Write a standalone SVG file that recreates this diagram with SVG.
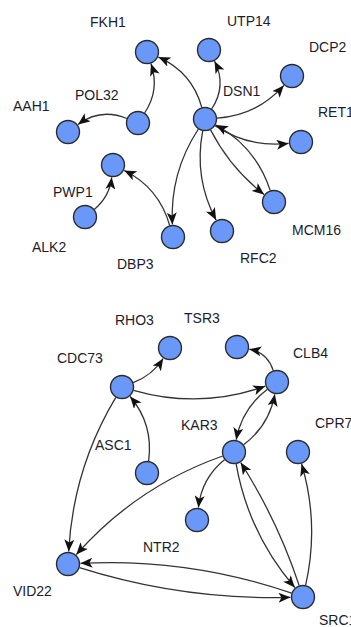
<svg xmlns="http://www.w3.org/2000/svg" width="351" height="627" viewBox="0 0 351 627">
<style>
.n{fill:#6a98f8;stroke:#2b2b2b;stroke-width:1.4}
.e{fill:none;stroke:#333;stroke-width:1.3}
.l{font-family:"Liberation Sans",Arial,sans-serif;font-size:14px;fill:#1c1c2c}
</style>
<defs>
<marker id="a" markerUnits="userSpaceOnUse" markerWidth="12" markerHeight="10" viewBox="0 0 12 10" refX="12" refY="5" orient="auto">
<path d="M0,0 L12,5 L0,10 L3,5 z" fill="#111"/>
</marker>
</defs>
<rect width="351" height="627" fill="#fff"/>
<g id="edges">
<path class="e" marker-end="url(#a)" d="M144.6,113 Q160,90 151,63.8"/>
<path class="e" marker-end="url(#a)" d="M126.9,118.5 Q100.5,107.7 78,124.5"/>
<path class="e" marker-end="url(#a)" d="M201.8,107.4 Q192,72 158.4,57.1"/>
<path class="e" marker-end="url(#a)" d="M211.6,109 Q227,85.7 214.6,61.2"/>
<path class="e" marker-end="url(#a)" d="M217,118.2 Q257.4,115.4 283.8,85.4"/>
<path class="e" marker-end="url(#a)" d="M215,125.6 Q248.8,148 288.6,143.4"/>
<path class="e" marker-end="url(#a)" d="M210.5,129.7 Q230.3,168.2 264.1,194.4"/>
<path class="e" marker-end="url(#a)" d="M270.3,190.6 Q256,146.8 216,125"/>
<path class="e" marker-end="url(#a)" d="M202.7,130.8 Q193.7,178 216.1,220"/>
<path class="e" marker-end="url(#a)" d="M198.4,129 Q169.7,172.8 172.4,224.5"/>
<path class="e" marker-end="url(#a)" d="M169.7,225.5 Q159,187.6 124.2,170.5"/>
<path class="e" marker-end="url(#a)" d="M94.3,209.4 Q109.6,196.7 111.7,177.4"/>
<path class="e" marker-end="url(#a)" d="M133.2,382.7 Q152.3,375.3 163.2,358.5"/>
<path class="e" marker-end="url(#a)" d="M133.5,390.3 Q200.3,409.5 265.2,386.2"/>
<path class="e" marker-end="url(#a)" d="M273.3,370.6 Q267.5,352.5 249.3,349.2"/>
<path class="e" marker-end="url(#a)" d="M148.6,461.1 Q153.7,424.4 130.1,396.5"/>
<path class="e" marker-end="url(#a)" d="M115.8,397.3 Q73,468.8 68.7,551.5"/>
<path class="e" marker-end="url(#a)" d="M243.6,444.8 Q269.1,425.4 274.8,394.3"/>
<path class="e" marker-end="url(#a)" d="M267.4,389.2 Q241.9,408.6 236.2,439.7"/>
<path class="e" marker-end="url(#a)" d="M224.7,459.6 Q201.5,478.4 198.4,507.6"/>
<path class="e" marker-end="url(#a)" d="M222.7,456 Q136.5,486.4 76.3,554.6"/>
<path class="e" marker-end="url(#a)" d="M291.6,593.1 Q188.7,557.7 80.5,563.3"/>
<path class="e" marker-end="url(#a)" d="M79.4,567.6 Q182.7,600.3 290.5,597.3"/>
<path class="e" marker-end="url(#a)" d="M236.1,463.8 Q248.6,534 294.8,587.5"/>
<path class="e" marker-end="url(#a)" d="M299.2,585.6 Q277.5,520.2 240.7,462.5"/>
<path class="e" marker-end="url(#a)" d="M305.6,585.3 Q319.5,523.9 301.6,464"/>
</g>
<g id="FKH1"><circle class="n" cx="147" cy="52" r="11.5"/><text class="l" x="90" y="27">FKH1</text></g>
<g id="UTP14"><circle class="n" cx="209" cy="50" r="11.5"/><text class="l" x="227" y="26">UTP14</text></g>
<g id="DCP2"><circle class="n" cx="292" cy="76" r="11.5"/><text class="l" x="309" y="52">DCP2</text></g>
<g id="POL32"><circle class="n" cx="138" cy="123" r="11.5"/><text class="l" x="75" y="100">POL32</text></g>
<g id="AAH1"><circle class="n" cx="68" cy="132" r="11.5"/><text class="l" x="13" y="111">AAH1</text></g>
<g id="DSN1"><circle class="n" cx="205" cy="119" r="11.5"/><text class="l" x="223" y="96">DSN1</text></g>
<g id="RET1"><circle class="n" cx="301" cy="142" r="11.5"/><text class="l" x="318" y="117">RET1</text></g>
<g id="PWP1"><circle class="n" cx="113" cy="165" r="11.5"/><text class="l" x="53" y="197">PWP1</text></g>
<g id="ALK2"><circle class="n" cx="85" cy="217" r="11.5"/><text class="l" x="32" y="252">ALK2</text></g>
<g id="MCM16"><circle class="n" cx="274" cy="202" r="11.5"/><text class="l" x="292" y="235">MCM16</text></g>
<g id="RFC2"><circle class="n" cx="222" cy="231" r="11.5"/><text class="l" x="240" y="263">RFC2</text></g>
<g id="DBP3"><circle class="n" cx="173" cy="237" r="11.5"/><text class="l" x="117" y="269">DBP3</text></g>
<g id="RHO3"><circle class="n" cx="170" cy="348" r="11.5"/><text class="l" x="115" y="325">RHO3</text></g>
<g id="TSR3"><circle class="n" cx="237" cy="347" r="11.5"/><text class="l" x="184" y="323">TSR3</text></g>
<g id="CDC73"><circle class="n" cx="122" cy="387" r="11.5"/><text class="l" x="57" y="363">CDC73</text></g>
<g id="CLB4"><circle class="n" cx="277" cy="382" r="11.5"/><text class="l" x="293" y="358">CLB4</text></g>
<g id="KAR3"><circle class="n" cx="234" cy="452" r="11.5"/><text class="l" x="181" y="430">KAR3</text></g>
<g id="CPR7"><circle class="n" cx="298" cy="452" r="11.5"/><text class="l" x="315" y="428">CPR7</text></g>
<g id="ASC1"><circle class="n" cx="147" cy="473" r="11.5"/><text class="l" x="95" y="450">ASC1</text></g>
<g id="NTR2"><circle class="n" cx="197" cy="520" r="11.5"/><text class="l" x="143" y="552">NTR2</text></g>
<g id="VID22"><circle class="n" cx="68" cy="564" r="11.5"/><text class="l" x="13" y="596">VID22</text></g>
<g id="SRC1"><circle class="n" cx="303" cy="597" r="11.5"/><text class="l" x="319" y="625">SRC1</text></g>
</svg>
